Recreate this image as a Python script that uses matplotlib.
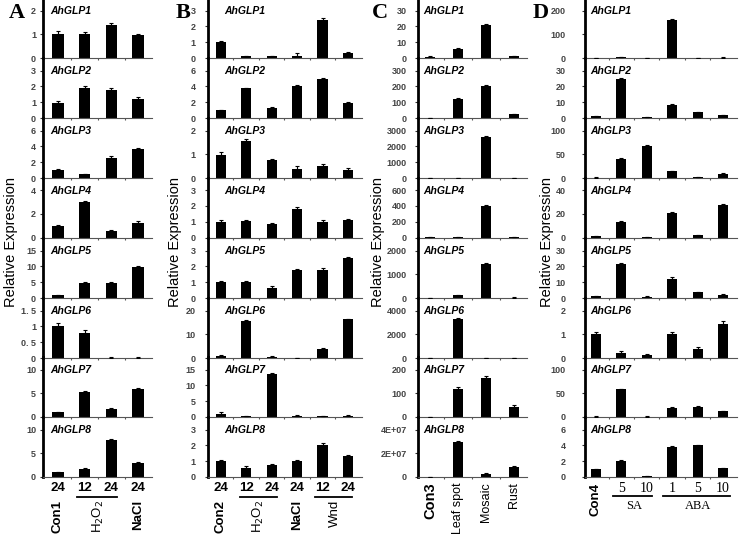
import matplotlib
matplotlib.use('Agg')
import matplotlib.pyplot as plt
import matplotlib.transforms as mtransforms
import numpy as np

plt.rcParams['font.family'] = ['Liberation Sans', 'DejaVu Sans']

genes = ['AhGLP1', 'AhGLP2', 'AhGLP3', 'AhGLP4', 'AhGLP5', 'AhGLP6', 'AhGLP7', 'AhGLP8']

# ---------------- Panel A ----------------
a_numbers = ['24', '12', '24', '24']
a_treat = ['Con1', 'H$_2$O$_2$', 'NaCl']
a_vals = [
    [1.0, 1.0, 1.38, 0.95],
    [0.97, 1.92, 1.78, 1.2],
    [0.95, 0.45, 2.5, 3.65],
    [0.95, 3.0, 0.55, 1.25],
    [0.8, 4.6, 4.6, 9.9],
    [1.0, 0.8, 0.01, 0.005],
    [1.0, 5.3, 1.7, 5.9],
    [0.95, 1.7, 7.8, 3.0],
]
a_errs = [
    [0.12, 0.1, 0.1, 0.08],
    [0.12, 0.1, 0.1, 0.1],
    [0.2, 0.1, 0.25, 0.15],
    [0.1, 0.1, 0.1, 0.1],
    [0.2, 0.3, 0.3, 0.2],
    [0.1, 0.08, 0.03, 0.02],
    [0.15, 0.2, 0.2, 0.15],
    [0.1, 0.2, 0.2, 0.2],
]
a_ticks = [
    ['0', '1', '2'], ['0', '1', '2', '3'], ['0', '2', '4', '6'], ['0', '2', '4'],
    ['0', '5', '10', '15'], ['0', '0. 5', '1', '1. 5'], ['0', '5', '10'], ['0', '5', '10'],
]

# ---------------- Panel B ----------------
b_numbers = ['24', '12', '24', '24', '12', '24']
b_treat = ['Con2', 'H$_2$O$_2$', 'NaCl', 'Wnd']
b_vals = [
    [1.0, 0.1, 0.1, 0.15, 2.4, 0.3],
    [0.95, 3.75, 1.25, 4.1, 4.9, 1.9],
    [0.98, 1.55, 0.75, 0.4, 0.5, 0.35],
    [1.0, 1.07, 0.85, 1.8, 1.0, 1.1],
    [1.0, 1.0, 0.65, 1.75, 1.8, 2.5],
    [0.8, 15.5, 0.6, 0.1, 4.0, 16.3],
    [1.0, 0.2, 13.5, 0.3, 0.3, 0.4],
    [1.0, 0.6, 0.75, 1.0, 2.05, 1.3],
]
b_errs = [
    [0.1, 0.05, 0.05, 0.15, 0.1, 0.05],
    [0.1, 0.1, 0.1, 0.1, 0.1, 0.1],
    [0.1, 0.08, 0.07, 0.12, 0.1, 0.08],
    [0.1, 0.06, 0.07, 0.1, 0.08, 0.06],
    [0.1, 0.1, 0.08, 0.1, 0.08, 0.1],
    [0.4, 0.5, 0.2, 0.1, 0.4, 0.3],
    [0.5, 0.1, 0.3, 0.2, 0.1, 0.2],
    [0.1, 0.1, 0.07, 0.1, 0.08, 0.07],
]
b_ticks = [
    ['0', '1', '2', '3'], ['0', '2', '4', '6'], ['0', '1', '2'], ['0', '1', '2', '3'],
    ['0', '1', '2', '3'], ['0', '10', '20'], ['0', '5', '10', '15'], ['0', '1', '2', '3'],
]

# ---------------- Panel C ----------------
c_treat = ['Con3', 'Leaf spot', 'Mosaic', 'Rust']
c_vals = [
    [0.8, 5.5, 21, 1.0],
    [1, 120, 205, 25],
    [1, 5, 2580, 5],
    [1, 2, 395, 3],
    [1, 120, 1430, 20],
    [1, 3300, 20, 5],
    [1, 120, 165, 42],
    [1, 2.95e7, 2.8e6, 8.6e6],
]
c_errs = [
    [0.3, 0.7, 0.5, 0.4],
    [0.5, 5, 5, 3],
    [0, 0, 50, 0],
    [0, 0, 10, 0],
    [0, 20, 40, 10],
    [0, 100, 0, 0],
    [1, 8, 7, 10],
    [0, 6e5, 5e5, 5e5],
]
c_ticks = [
    ['0', '10', '20', '30'], ['0', '100', '200', '300'], ['0', '1000', '2000', '3000'],
    ['0', '200', '400', '600'], ['0', '1000', '2000'], ['0', '2000', '4000'],
    ['0', '100', '200'], ['0', '2E+07', '4E+07'],
]

# ---------------- Panel D ----------------
d_numbers = ['5', '10', '1', '5', '10']
d_treat = ['Con4', 'SA', 'ABA']
d_vals = [
    [1, 4, 0.5, 162, 1, 2],
    [1, 24.5, 0.5, 8.5, 3.5, 1.8],
    [1, 40, 67, 14, 2, 9],
    [1, 13, 0.5, 20.5, 2, 27.5],
    [1, 21.5, 0.5, 12, 3.5, 2],
    [1.0, 0.22, 0.13, 1.02, 0.38, 1.42],
    [1, 58, 1, 20, 22, 12],
    [0.95, 2.05, 0.1, 3.85, 4.0, 1.1],
]
d_errs = [
    [0.5, 1, 0.3, 3, 0.5, 0.5],
    [0.2, 0.5, 0.2, 0.4, 0.3, 0.3],
    [0.5, 1.5, 2, 1.5, 0.5, 1],
    [0.5, 1, 0.3, 1, 0.5, 1],
    [0.5, 0.5, 0.5, 1.2, 0.5, 0.5],
    [0.08, 0.06, 0.03, 0.08, 0.08, 0.15],
    [0.5, 1.5, 0.5, 1, 1.5, 0.5],
    [0.08, 0.06, 0.05, 0.07, 0.08, 0.1],
]
d_ticks = [
    ['0', '100', '200'], ['0', '10', '20', '30'], ['0', '50', '100'], ['0', '20', '40'],
    ['0', '10', '20', '30'], ['0', '1', '2'], ['0', '50', '100'], ['0', '2', '4', '6'],
]

W, H = 741, 539
fig = plt.figure(figsize=(W / 100, H / 100), dpi=100)

ZERO = [58, 118, 178, 237.5, 298, 358, 417, 477]
ROW = 59.9
TOPPX = 47.5


def fy(py):
    return 1 - py / H


def panel(vals, errs, ticks, xl, xr, xlim, width, pad, glx):
    n = len(vals[0])
    axes = []
    for i in range(8):
        ax = fig.add_axes([xl / W, fy(ZERO[i]), (xr - xl) / W, ROW / H])
        ax.set_facecolor('none')
        x = np.arange(n)
        v = np.array(vals[i], dtype=float)
        e = np.array(errs[i], dtype=float)
        ax.bar(x, v, width=width, color='black', zorder=2)
        ax.errorbar(x, v, yerr=[np.zeros(n), e], fmt='none', ecolor='black',
                    elinewidth=0.8, capsize=1.5, capthick=0.8, zorder=3)
        tv = [float(s.replace(' ', '')) for s in ticks[i]]
        ax.set_ylim(0, tv[-1] * ROW / TOPPX)
        ax.set_xlim(*xlim)
        ax.set_yticks(tv)
        ax.set_yticklabels(ticks[i], fontsize=6.5, fontweight='bold', color='#444444')
        ax.tick_params(axis='y', length=2, width=0.8, pad=pad, color='#333333')
        ax.set_xticks([])
        ax.set_xticks(np.arange(n - 1) + 0.5, minor=True)
        ax.tick_params(axis='x', which='minor', length=1.5, width=0.8, color='#555555')
        for s in ['top', 'right']:
            ax.spines[s].set_visible(False)
        ax.spines['left'].set_linewidth(2.0)
        ax.spines['left'].set_color('black')
        ax.spines['bottom'].set_linewidth(0.8)
        ax.spines['bottom'].set_color('#555555')
        ax.text(glx / (xr - xl), 47 / ROW, genes[i], transform=ax.transAxes,
                fontsize=7.5, fontweight='bold', fontstyle='italic', va='center', ha='left')
        axes.append(ax)
    return axes


axA = panel(a_vals, a_errs, a_ticks, 43, 152, (-0.56, 3.52), 0.42, 3, 7)
axB = panel(b_vals, b_errs, b_ticks, 208, 362, (-0.5, 5.55), 0.4, 7, 16)
axC = panel(c_vals, c_errs, c_ticks, 418, 527, (-0.43, 3.46), 0.37, 6, 5)
axD = panel(d_vals, d_errs, d_ticks, 585, 737, (-0.43, 5.55), 0.4, 12, 5)

# Panel letters and y labels
for letter, px in [('A', 9), ('B', 176), ('C', 372), ('D', 533)]:
    fig.text(px / W, fy(3), letter, fontsize=16, fontweight='bold',
             family='Liberation Serif', va='top', ha='left')
for px in [11, 175, 378, 547]:
    fig.text(px / W, fy(242), 'Relative Expression', rotation=90, fontsize=10.5,
             va='center', ha='center')


def bt(ax):
    return mtransforms.blended_transform_factory(ax.transData, fig.transFigure)


def underline(ax, x0, x1, py):
    ax.plot([x0, x1], [fy(py), fy(py)], transform=bt(ax), color='black',
            linewidth=1.3, clip_on=False)


# A bottom labels
tA = bt(axA[-1])
for k, s in enumerate(a_numbers):
    fig.text(k, fy(488), s, transform=tA, ha='center', va='center', fontsize=9.5, fontweight='bold')
underline(axA[-1], 0.7, 2.2, 497)
for xk, s, fw in zip([0, 1.5, 3], a_treat, ['bold', 'normal', 'bold']):
    fig.text(xk, fy(500), s, transform=tA, rotation=90, ha='center', va='top',
             fontsize=9.5, fontweight=fw)

# B bottom labels
tB = bt(axB[-1])
for k, s in enumerate(b_numbers):
    fig.text(k, fy(488), s, transform=tB, ha='center', va='center', fontsize=9.5, fontweight='bold')
underline(axB[-1], 0.76, 2.21, 497)
underline(axB[-1], 3.7, 5.16, 497)
for xk, s, fw in zip([0, 1.5, 3, 4.5], b_treat, ['bold', 'normal', 'bold', 'normal']):
    fig.text(xk, fy(500), s, transform=tB, rotation=90, ha='center', va='top',
             fontsize=9.5, fontweight=fw)

# C bottom labels
tC = bt(axC[-1])
for k, s in enumerate(c_treat):
    if k == 0:
        fig.text(k, fy(482), s, transform=tC, rotation=90, ha='center', va='top',
                 fontsize=10.5, fontweight='bold')
    else:
        fig.text(k, fy(482), s, transform=tC, rotation=90, ha='center', va='top',
                 fontsize=9)

# D bottom labels
tD = bt(axD[-1])
fig.text(0, fy(483), d_treat[0], transform=tD, rotation=90, ha='center', va='top',
         fontsize=9.5, fontweight='bold')
for k, s in enumerate(d_numbers):
    fig.text(k + 1, fy(488), s, transform=tD, ha='center', va='center', fontsize=10,
             family='Liberation Serif')
underline(axD[-1], 0.67, 2.21, 496)
underline(axD[-1], 2.64, 5.28, 496)
fig.text(1.5, fy(506), d_treat[1], transform=tD, ha='center', va='center', fontsize=9,
         family='Liberation Serif')
fig.text(4.0, fy(506), d_treat[2], transform=tD, ha='center', va='center', fontsize=9,
         family='Liberation Serif')

fig.savefig('out.png', dpi=100)
